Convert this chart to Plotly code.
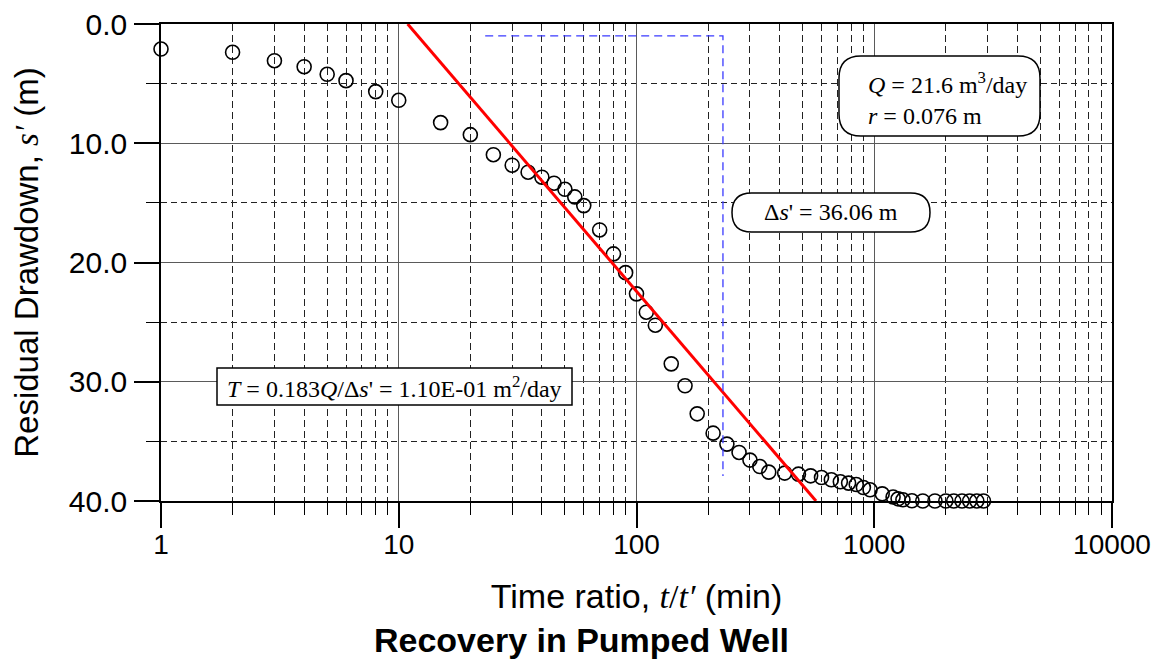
import plotly.graph_objects as go

# ---------------- data ----------------
t_ratio = [1, 2, 3, 4, 5, 6, 8, 10, 15, 20, 25, 30, 35, 40, 45, 50, 55, 60, 70, 80,
           90, 100, 110, 120, 140, 160, 180, 210, 240, 270, 300, 330, 360, 420, 480,
           540, 600, 660, 720, 780, 840, 900, 960, 1080, 1200, 1260, 1320, 1440, 1600,
           1800, 2000, 2160, 2340, 2520, 2700, 2880]
residual_drawdown = [2.10, 2.37, 3.08, 3.58, 4.22, 4.75, 5.67, 6.40, 8.27, 9.28, 10.96,
                     11.84, 12.43, 12.85, 13.35, 13.86, 14.50, 15.23, 17.27, 19.28, 20.85,
                     22.63, 24.17, 25.26, 28.50, 30.34, 32.69, 34.31, 35.23, 35.93, 36.57,
                     37.11, 37.58, 37.66, 37.75, 37.89, 38.03, 38.22, 38.39, 38.50, 38.62,
                     38.87, 39.06, 39.40, 39.67, 39.82, 39.90, 39.98, 40.0, 40.0, 40.0,
                     40.0, 40.0, 40.0, 40.0, 40.0]

fit_t = [10.9, 569.0]          # straight-line fit (red)
fit_s = [0.0, 40.0]
delta_t = [23.1, 231.0, 231.0]  # one log-cycle indicator (blue dashed)
delta_s = [1.0, 1.0, 37.9]

x_major = [1, 10, 100, 1000, 10000]
x_major_text = ["1", "10", "100", "1000", "10000"]
x_minor = [m * 10 ** k for k in range(4) for m in range(2, 10)]
y_major = [0, 10, 20, 30, 40]
y_major_text = ["0.0", "10.0", "20.0", "30.0", "40.0"]
y_minor = [5, 15, 25, 35]

Q_text = "<i>Q</i> = 21.6 m<sup>3</sup>/day<br><i>r</i> = 0.076 m"
ds_text = "Δ<i>s</i>' = 36.06 m"
T_text = "<i>T</i> = 0.183<i>Q</i>/Δ<i>s</i>' = 1.10E-01 m<sup>2</sup>/day"

# ---------------- layout geometry ----------------
W, H = 1163, 664
L, R, T, B = 161, 51, 24, 163
PW, PH = W - L - R, H - T - B


def px(x):
    return (x - L) / PW


def py(y):
    return (T + PH - y) / PH


def rounded_path(x0, y0, x1, y1, r):
    pts = [
        ("M", [(x0 + r, y0)]), ("L", [(x1 - r, y0)]), ("Q", [(x1, y0), (x1, y0 + r)]),
        ("L", [(x1, y1 - r)]), ("Q", [(x1, y1), (x1 - r, y1)]), ("L", [(x0 + r, y1)]),
        ("Q", [(x0, y1), (x0, y1 - r)]), ("L", [(x0, y0 + r)]), ("Q", [(x0, y0), (x0 + r, y0)]),
    ]
    s = ""
    for cmd, ps in pts:
        s += cmd + " " + " ".join(f"{px(a):.5f},{py(b):.5f}" for a, b in ps) + " "
    return s + "Z"


SERIF = "Liberation Serif"
SANS = "Liberation Sans"

fig = go.Figure()
fig.add_trace(go.Scatter(
    x=t_ratio, y=residual_drawdown, mode="markers", cliponaxis=False,
    marker=dict(symbol="circle-open", size=14, color="black", line=dict(width=1.6, color="black")),
    showlegend=False))
fig.add_trace(go.Scatter(
    x=fit_t, y=fit_s, mode="lines", line=dict(color="#ff0000", width=3), showlegend=False))
fig.add_trace(go.Scatter(
    x=delta_t, y=delta_s, mode="lines", line=dict(color="#3a3aff", width=1.3, dash="8px,5px"),
    showlegend=False))

shapes = [
    dict(type="path", xref="paper", yref="paper", layer="above",
         path=rounded_path(839, 56, 1040, 136, 22),
         fillcolor="white", line=dict(color="black", width=1.5)),
    dict(type="path", xref="paper", yref="paper", layer="above",
         path=rounded_path(732, 193, 930, 232, 19.5),
         fillcolor="white", line=dict(color="black", width=1.5)),
    dict(type="rect", xref="paper", yref="paper", layer="above",
         x0=px(217), x1=px(572), y0=py(405), y1=py(368),
         fillcolor="white", line=dict(color="black", width=1.5)),
]

annotations = [
    dict(text=Q_text, xref="paper", yref="paper", x=px(866), y=py(99), xanchor="left",
         yanchor="middle", align="left", showarrow=False,
         font=dict(family=SERIF, size=24, color="black")),
    dict(text=ds_text, xref="paper", yref="paper", x=px(831), y=py(212.5), xanchor="center",
         yanchor="middle", showarrow=False, font=dict(family=SERIF, size=24, color="black")),
    dict(text=T_text, xref="paper", yref="paper", x=px(394.5), y=py(386.5), xanchor="center",
         yanchor="middle", showarrow=False, font=dict(family=SERIF, size=24, color="black")),
]

fig.update_layout(
    width=W, height=H, margin=dict(l=L, r=R, t=T, b=B, autoexpand=False),
    paper_bgcolor="white", plot_bgcolor="white",
    shapes=shapes, annotations=annotations,
    title=dict(text="<b>Recovery in Pumped Well</b>", x=0.5, xanchor="center",
               yref="container", y=1 - 640 / H, yanchor="middle",
               font=dict(family=SANS, size=34, color="black")),
    font=dict(family=SANS, color="black"),
)

fig.update_xaxes(
    type="log", range=[0, 4], showline=True, linecolor="black", linewidth=1.5, mirror=True,
    tickmode="array", tickvals=x_major, ticktext=x_major_text,
    ticks="outside", ticklen=25, tickwidth=1.5, tickcolor="black", ticklabelstandoff=-7,
    tickfont=dict(family=SANS, size=28, color="black"),
    showgrid=True, gridcolor="#5a5a5a", gridwidth=1, zeroline=False,
    minor=dict(tickmode="array", tickvals=x_minor, ticks="outside", ticklen=12, tickwidth=1.2,
               tickcolor="black", showgrid=True, gridcolor="#222222", gridwidth=1,
               griddash="7px,4px"),
    title=dict(text="Time ratio, <span style='font-family:Liberation Serif'><i>t</i>/<i>t′</i></span> (min)",
               font=dict(family=SANS, size=34, color="black"), standoff=25),
)
fig.update_yaxes(
    range=[40, 0], showline=True, linecolor="black", linewidth=1.5, mirror=True,
    tickmode="array", tickvals=y_major, ticktext=y_major_text,
    ticks="outside", ticklen=25, tickwidth=1.5, tickcolor="black", ticklabelstandoff=1,
    tickfont=dict(family=SANS, size=30, color="black"),
    showgrid=True, gridcolor="#5a5a5a", gridwidth=1, zeroline=False,
    minor=dict(tickmode="array", tickvals=y_minor, ticks="outside", ticklen=13, tickwidth=1.2,
               tickcolor="black", showgrid=True, gridcolor="#222222", gridwidth=1,
               griddash="6px,4px"),
    title=dict(text="Residual Drawdown, <span style='font-family:Liberation Serif'><i>s′</i></span> (m)",
               font=dict(family=SANS, size=33, color="black"), standoff=20),
)

fig.write_html("out.html", config={"displayModeBar": False},
               post_script="document.body.style.margin='0px';")
